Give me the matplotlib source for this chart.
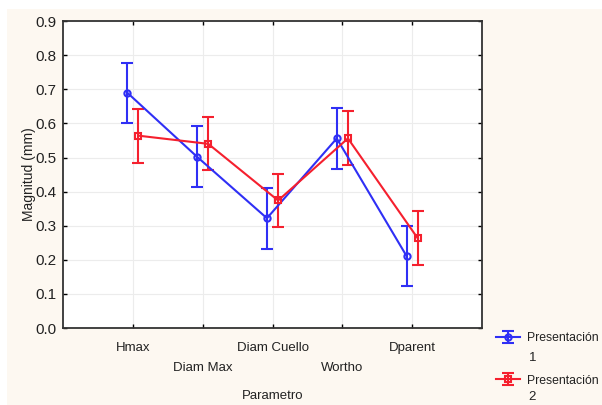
import matplotlib.pyplot as plt
import numpy as np

plt.rcParams['font.family'] = ['Liberation Sans', 'DejaVu Sans']

parametros = ["Hmax", "Diam Max", "Diam Cuello", "Wortho", "Dparent"]
media_p1 = [0.69, 0.502, 0.322, 0.556, 0.211]
erro_p1 = [0.088, 0.089, 0.090, 0.089, 0.089]
media_p2 = [0.564, 0.540, 0.374, 0.556, 0.263]
erro_p2 = [0.079, 0.078, 0.079, 0.079, 0.079]
legendas = ["Presentación", "Presentación"]
niveis = ["1", "2"]

azul = "#2f2ff5"
vermelho = "#f5202e"
fundo = "#fdf8f1"
texto = "#222222"

fig = plt.figure(figsize=(6.02, 4.05), dpi=100, facecolor="white")
# fundo creme da figura
fig.patches.append(plt.Rectangle((0.012, 0), 0.988, 0.978, transform=fig.transFigure,
                                 facecolor=fundo, edgecolor="none", zorder=-10))
ax = fig.add_axes([0.1047, 0.190, 0.696, 0.758])
ax.set_facecolor("white")

x = np.arange(1, len(parametros) + 1)
desloc = 0.08

h1 = ax.errorbar(x - desloc, media_p1, yerr=erro_p1, color=azul, lw=1.5, elinewidth=1.5,
                 capsize=4, capthick=1.5, marker="o", ms=4.5, mfc="none", mew=1.5, zorder=3)
h2 = ax.errorbar(x + desloc, media_p2, yerr=erro_p2, color=vermelho, lw=1.5, elinewidth=1.5,
                 capsize=4, capthick=1.5, marker="s", ms=4.5, mfc="none", mew=1.5, zorder=3)

ax.set_xlim(0, 6)
ax.set_ylim(0, 0.9)
ax.set_yticks(np.arange(0, 0.91, 0.1))
ax.set_yticklabels([f"{v:.1f}" for v in np.arange(0, 0.91, 0.1)], fontsize=11, color=texto)
ax.set_xticks(x)
rotulos = [p if i % 2 == 0 else "\n" + p for i, p in enumerate(parametros)]
ax.set_xticklabels(rotulos, fontsize=9.5, linespacing=1.85, color=texto)
ax.tick_params(axis="y", direction="in", length=3, width=1, right=True, pad=5)
ax.tick_params(axis="x", direction="in", length=3, width=1, top=True, pad=10)
ax.grid(True, color="#ececec", lw=0.8)
ax.set_axisbelow(True)
for s in ax.spines.values():
    s.set_linewidth(1.3)
    s.set_color("#333333")

ax.set_ylabel("Magnitud (mm)", fontsize=10, labelpad=-1, color=texto)
ax.set_xlabel("Parametro", fontsize=9.5, labelpad=12, color=texto)

fig.legend([h1, h2], legendas, loc="upper left", bbox_to_anchor=(0.824, 0.180),
           frameon=False, fontsize=8.8, handlelength=2.0, handletextpad=0.5,
           labelspacing=2.5, borderaxespad=0, borderpad=0, labelcolor=texto)
for i, n in enumerate(niveis):
    fig.text(0.878, 0.116 - i * 0.097, n, fontsize=9.5, color=texto, va="center")

fig.savefig("out.png", dpi=100, facecolor=fig.get_facecolor())
